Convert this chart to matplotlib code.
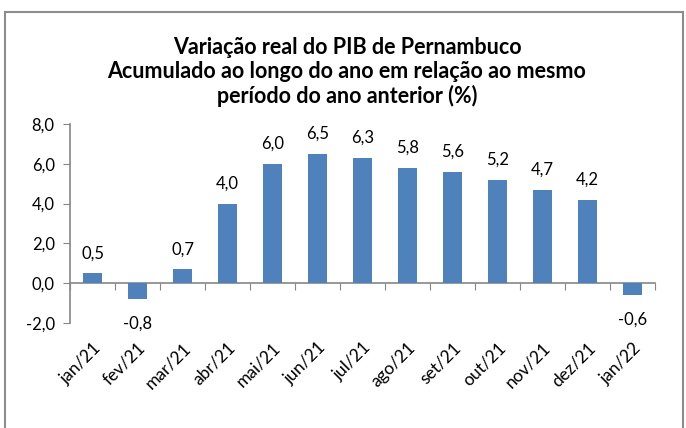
import matplotlib.pyplot as plt
from matplotlib.patches import Rectangle
from matplotlib.ticker import FuncFormatter

months = ['jan/21', 'fev/21', 'mar/21', 'abr/21', 'mai/21', 'jun/21', 'jul/21',
          'ago/21', 'set/21', 'out/21', 'nov/21', 'dez/21', 'jan/22']
values = [0.5, -0.8, 0.7, 4.0, 6.0, 6.5, 6.3, 5.8, 5.6, 5.2, 4.7, 4.2, -0.6]
y_ticks = [-2, 0, 2, 4, 6, 8]

plt.rcParams['font.family'] = ['Lato', 'DejaVu Sans']

bar_color = '#4F81BD'
axis_color = '#868686'


def comma(v, pos=None):
    return f'{v:.1f}'.replace('.', ',')


fig = plt.figure(figsize=(6.86, 4.28), dpi=100)
fig.patches.append(Rectangle((5 / 686, -0.1), 678 / 686, 1.1 - 12 / 428,
                             transform=fig.transFigure, fill=False,
                             edgecolor='#8c8c8c', linewidth=1.5))

ax = fig.add_axes([70 / 686, 1 - 323 / 428, 585 / 686, 199 / 428])
xs = range(len(months))
ax.bar(xs, values, width=0.42, color=bar_color)

for x, v in zip(xs, values):
    if v >= 0:
        ax.annotate(comma(v), (x, v), xytext=(0, 8.5), textcoords='offset points',
                    ha='center', va='bottom', fontsize=12)
    else:
        ax.annotate(comma(v), (x, v), xytext=(0, -12), textcoords='offset points',
                    ha='center', va='top', fontsize=12)

ax.set_xlim(-0.5, len(months) - 0.5)
ax.set_ylim(-2, 8)
ax.set_yticks(y_ticks)
ax.yaxis.set_major_formatter(FuncFormatter(comma))
ax.tick_params(axis='y', direction='out', length=5, color=axis_color,
               labelsize=12, pad=6)

ax.set_xticks(list(xs))
ax.set_xticklabels(months, rotation=45, ha='right', va='top',
                   rotation_mode='anchor', fontsize=12.5)
ax.tick_params(axis='x', length=0, pad=12)

for side in ['top', 'right', 'bottom']:
    ax.spines[side].set_visible(False)
ax.spines['left'].set_color(axis_color)
ax.spines['left'].set_linewidth(1.2)

# category axis sits on the zero line, with ticks between categories
zero_axis = ax.secondary_xaxis((0 - (-2)) / (8 - (-2)))
zero_axis.set_xticks([i - 0.5 for i in range(len(months) + 1)])
zero_axis.set_xticklabels([])
zero_axis.tick_params(direction='out', length=5, color=axis_color)
zero_axis.spines['bottom'].set_color(axis_color)
zero_axis.spines['bottom'].set_linewidth(1.2)

fig.text(347 / 686, 1 - 72 / 428,
         'Variação real do PIB de Pernambuco\n'
         'Acumulado ao longo do ano em relação ao mesmo\n'
         'período do ano anterior (%)',
         ha='center', va='center', fontsize=15.5, fontweight='bold',
         linespacing=1.15)

fig.savefig('out.png', dpi=100)
